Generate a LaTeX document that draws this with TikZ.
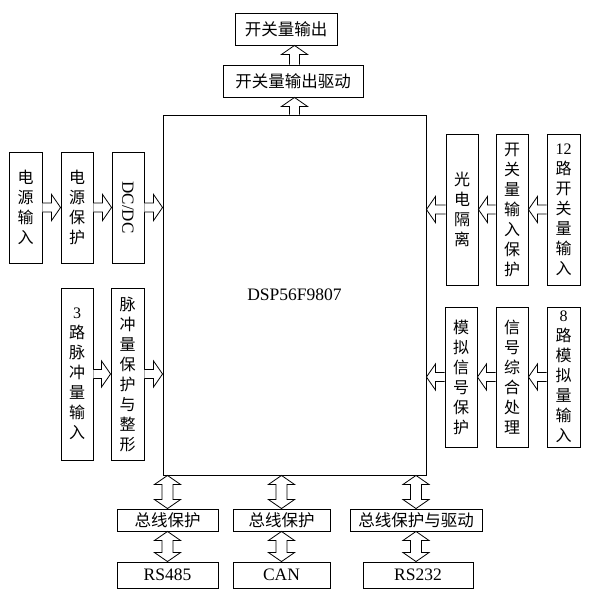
\documentclass[tikz,border=0pt]{standalone}
\usepackage{fontspec}
\setmainfont{Liberation Serif}
\newfontfamily\cjk{Noto Sans CJK SC}
\usetikzlibrary{calc}
\tikzset{
  box/.style={draw, line width=0.9pt, inner sep=0pt, align=center},
  vbox/.style={box, font=\cjk\fontsize{16}{20}\selectfont},
  hbox/.style={box, font=\cjk\fontsize{16.5}{20}\selectfont},
  blk/.style={draw, line width=0.8pt, fill=white, line join=miter},
}
% horizontal block arrow from #1 to #2 (same y)
\newcommand\harr[2]{%
  \path let \p1=(#1), \p2=(#2), \n1={ifthenelse(\x2>\x1,1,-1)} in
  [draw, blk] (\x1,\y1+4.5) -- (\x2-9*\n1,\y1+4.5) -- (\x2-9*\n1,\y1+13) -- (\x2,\y1)
   -- (\x2-9*\n1,\y1-13) -- (\x2-9*\n1,\y1-4.5) -- (\x1,\y1-4.5);}
% vertical block arrow upward from #1 to #2 (same x)
\newcommand\varr[2]{%
  \path let \p1=(#1), \p2=(#2) in
  [draw, blk] (\x1-5,\y1) -- (\x1-5,\y2-9) -- (\x1-13,\y2-9) -- (\x1,\y2)
   -- (\x1+13,\y2-9) -- (\x1+5,\y2-9) -- (\x1+5,\y1);}
% vertical double block arrow between #1 (top) and #2 (bottom)
\newcommand\darr[2]{%
  \path let \p1=(#1), \p2=(#2) in
  [draw, blk] (\x1,\y1) -- (\x1+13,\y1-9) -- (\x1+5.5,\y1-9) -- (\x1+5.5,\y2+9)
   -- (\x1+13,\y2+9) -- (\x1,\y2) -- (\x1-13,\y2+9) -- (\x1-5.5,\y2+9)
   -- (\x1-5.5,\y1-9) -- (\x1-13,\y1-9) -- cycle;}
\begin{document}
\begin{tikzpicture}[x=1pt,y=-1pt]
\useasboundingbox (0,0) rectangle (593,598);
% main
\node[box, minimum width=263, minimum height=360, font=\fontsize{17.5}{20}\selectfont] (dsp) at (294.5,295) {DSP56F9807};
% top
\node[hbox, minimum width=102, minimum height=32] (out) at (286,29) {开关量输出};
\node[hbox, minimum width=140, minimum height=32] (drv) at (293,81) {开关量输出驱动};
% left upper
\node[vbox, minimum width=33, minimum height=111] (pin) at (25.5,207.5) {电\\源\\输\\入};
\node[vbox, minimum width=32, minimum height=111] (pp) at (77,207.5) {电\\源\\保\\护};
\node[box, minimum width=32, minimum height=111] (dcdc) at (128,207.5) {};
\node[rotate=-90, font=\fontsize{17}{20}\selectfont, inner sep=0pt] (dcdct) at (dcdc.center) {DC/DC};
% left lower
\node[vbox, minimum width=32, minimum height=172] (mi) at (77,374) {{\fontspec{Liberation Serif}3}\\路\\脉\\冲\\量\\输\\入};
\node[vbox, minimum width=33, minimum height=172] (mp) at (127.5,374) {脉\\冲\\量\\保\\护\\与\\整\\形};
% right upper
\node[vbox, minimum width=32, minimum height=151] (gd) at (462,209.5) {光\\电\\隔\\离};
\node[vbox, minimum width=32, minimum height=151] (kp) at (512,209.5) {开\\关\\量\\输\\入\\保\\护};
\node[vbox, minimum width=33, minimum height=151] (ki) at (563.5,209.5) {{\fontspec{Liberation Serif}12}\\路\\开\\关\\量\\输\\入};
% right lower
\node[vbox, minimum width=32, minimum height=140] (mn) at (461,377) {模\\拟\\信\\号\\保\\护};
\node[vbox, minimum width=32, minimum height=140] (xh) at (512,377) {信\\号\\综\\合\\处\\理};
\node[vbox, minimum width=33, minimum height=140] (ai) at (563.5,377) {{\fontspec{Liberation Serif}8}\\路\\模\\拟\\量\\输\\入};
% bottom
\node[hbox, minimum width=101, minimum height=22] (b1) at (167.5,520) {总线保护};
\node[hbox, minimum width=97, minimum height=22] (b2) at (281.5,520) {总线保护};
\node[hbox, minimum width=132, minimum height=22] (b3) at (416,520) {总线保护与驱动};
\node[box, minimum width=101, minimum height=26, font=\fontsize{17.5}{20}\selectfont] (r1) at (167.5,575) {RS485};
\node[box, minimum width=97, minimum height=26, font=\fontsize{17.5}{20}\selectfont] (r2) at (281.5,575) {CAN};
\node[box, minimum width=110, minimum height=26, font=\fontsize{17.5}{20}\selectfont] (r3) at (418,575) {RS232};
% arrows top
\varr{dsp.north}{drv.south -| dsp.north}
\varr{drv.north -| dsp.north}{out.south -| dsp.north}
% arrows left
\harr{pin.east}{pp.west}
\harr{pp.east}{dcdc.west}
\harr{dcdc.east}{dcdc.east -| dsp.west}
\harr{mi.east}{mp.west}
\harr{mp.east}{mp.east -| dsp.west}
% arrows right
\harr{ki.west}{kp.west -| kp.east}
\harr{kp.west}{kp.west -| gd.east}
\harr{gd.west}{gd.west -| dsp.east}
\harr{ai.west}{ai.west -| xh.east}
\harr{xh.west}{xh.west -| mn.east}
\harr{mn.west}{mn.west -| dsp.east}
% bottom double arrows
\darr{b1.north |- dsp.south}{b1.north}
\darr{b2.north |- dsp.south}{b2.north}
\darr{b3.north |- dsp.south}{b3.north}
\darr{b1.south}{r1.north}
\darr{b2.south}{r2.north}
\darr{b3.south}{b3.south |- r3.north}
\end{tikzpicture}
\end{document}
